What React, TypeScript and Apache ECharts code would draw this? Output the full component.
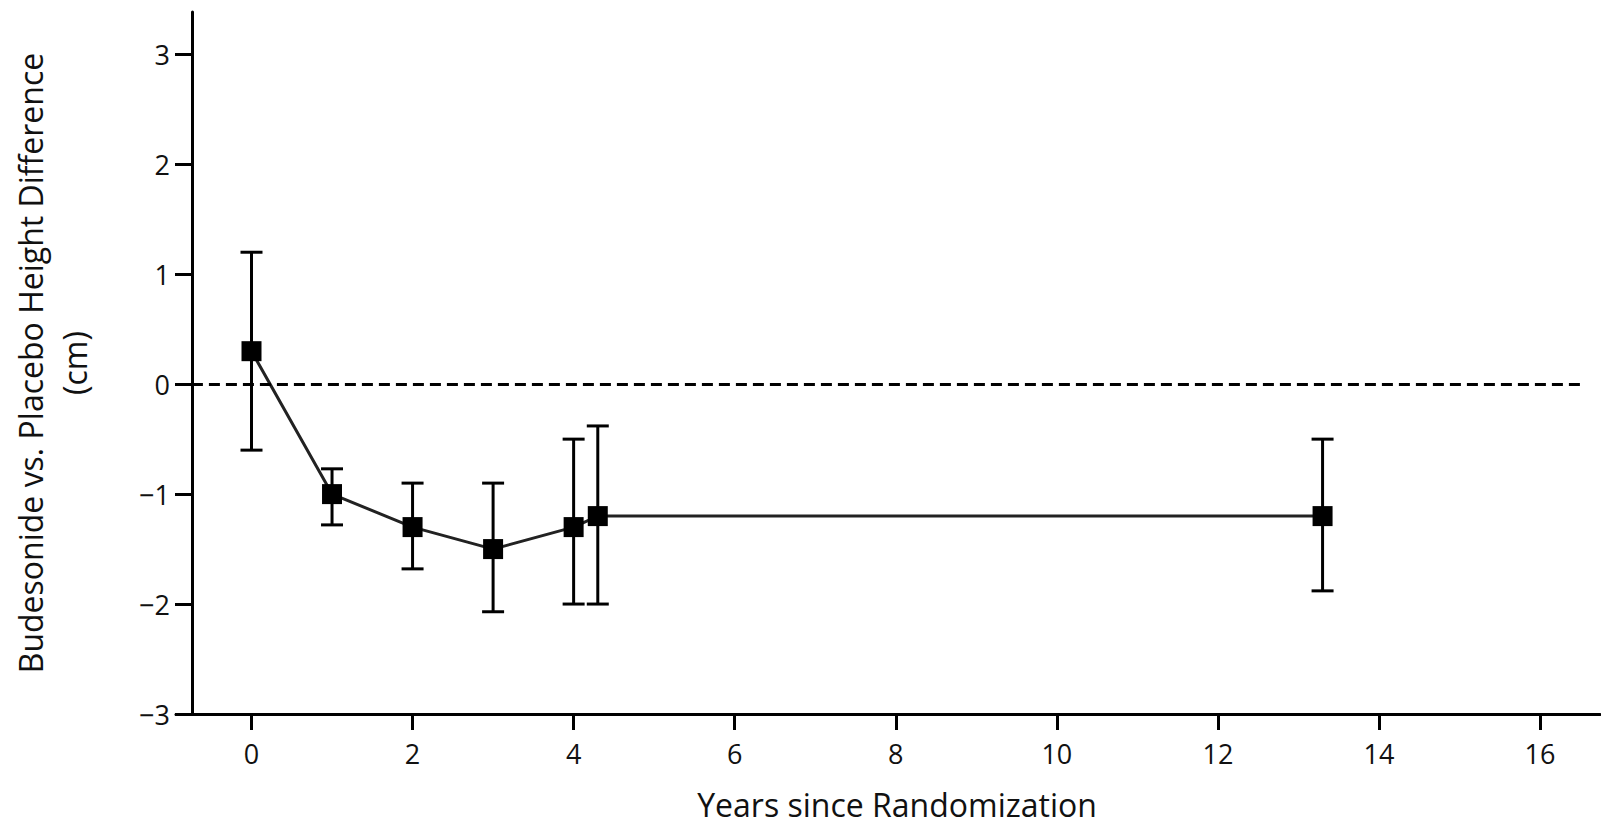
import React, { useEffect, useRef } from "react";
import * as echarts from "echarts";

// Data
const years = [0, 1, 2, 3, 4, 4.3, 13.3];
const heightDiff = [0.3, -1.0, -1.3, -1.5, -1.3, -1.2, -1.2];
const ciLow = [-0.6, -1.28, -1.68, -2.07, -2.0, -2.0, -1.88];
const ciHigh = [1.2, -0.77, -0.9, -0.9, -0.5, -0.38, -0.5];
const xTicks = [0, 2, 4, 6, 8, 10, 12, 14, 16];
const yTicks = [-3, -2, -1, 0, 1, 2, 3];
const refValue = 0;

const xMin = -0.9375;
const xMax = 16.745;
const yMin = -3;
const yMax = 3.385;
const refStart = -0.74;
const refEnd = 16.54;

const FONT = "'Open Sans', sans-serif";
const INK = "#111";

export default function App() {
  const ref = useRef<HTMLDivElement>(null);

  useEffect(() => {
    document.body.style.margin = "0";
    if (!ref.current) return;
    const chart = echarts.init(ref.current, null, { renderer: "svg" });

    const points = years.map((x, i) => [x, heightDiff[i]]);
    const bars = years.map((x, i) => [x, ciLow[i], ciHigh[i]]);

    chart.setOption({
      animation: false,
      backgroundColor: "#fff",
      grid: { left: 176, right: 1, top: 12, bottom: 112, containLabel: false, outerBoundsMode: "none" },
      xAxis: {
        type: "value",
        min: xMin,
        max: xMax,
        name: "Years since Randomization",
        nameLocation: "middle",
        nameGap: 74,
        nameTextStyle: { fontFamily: FONT, fontSize: 32, color: INK, fontWeight: 500, padding: [0, 0, 0, 18] },
        axisLine: { show: true, onZero: false, lineStyle: { color: "#000", width: 3 } },
        axisTick: {
          show: true,
          length: 16,
          inside: false,
          customValues: xTicks,
          lineStyle: { color: "#000", width: 3 },
        },
        axisLabel: {
          customValues: xTicks,
          margin: 26,
          fontFamily: FONT,
          fontSize: 27,
          color: INK,
        },
        splitLine: { show: false },
      },
      yAxis: {
        type: "value",
        min: yMin,
        max: yMax,
        offset: -16,
        name: "Budesonide vs. Placebo Height Difference\n(cm)",
        nameLocation: "middle",
        nameGap: 96,
        nameRotate: 90,
        nameTextStyle: { fontFamily: FONT, fontSize: 32, color: INK, fontWeight: 500, lineHeight: 44, align: "center" },
        axisLine: { show: true, onZero: false, lineStyle: { color: "#000", width: 3 } },
        axisTick: {
          show: true,
          length: 17,
          customValues: yTicks,
          lineStyle: { color: "#000", width: 3 },
        },
        axisLabel: {
          customValues: yTicks,
          margin: 22,
          fontFamily: FONT,
          fontSize: 27,
          color: INK,
          formatter: (v: number) => (v < 0 ? "\u2212" + Math.abs(v) : String(v)),
        },
        splitLine: { show: false },
      },
      series: [
        {
          type: "custom",
          name: "ci",
          data: bars,
          encode: { x: 0, y: [1, 2] },
          z: 2,
          renderItem: (params: any, api: any) => {
            const x = api.value(0);
            const lo = api.coord([x, api.value(1)]);
            const hi = api.coord([x, api.value(2)]);
            const cap = 11;
            const style = { stroke: "#000", lineWidth: 3 };
            return {
              type: "group",
              children: [
                { type: "line", shape: { x1: lo[0], y1: lo[1], x2: hi[0], y2: hi[1] }, style },
                { type: "line", shape: { x1: lo[0] - cap, y1: lo[1], x2: lo[0] + cap, y2: lo[1] }, style },
                { type: "line", shape: { x1: hi[0] - cap, y1: hi[1], x2: hi[0] + cap, y2: hi[1] }, style },
              ],
            };
          },
        },
        {
          type: "line",
          name: "diff",
          data: points,
          z: 3,
          symbol: "rect",
          symbolSize: 20,
          itemStyle: { color: "#000" },
          lineStyle: { color: "#222", width: 3 },
          markLine: {
            silent: true,
            symbol: ["none", "none"],
            label: { show: false },
            lineStyle: { color: "#000", width: 3, type: [11, 6] },
            data: [[{ coord: [refStart, refValue] }, { coord: [refEnd, refValue] }]],
          },
        },
      ],
    });

    return () => chart.dispose();
  }, []);

  return <div ref={ref} style={{ width: 1601, height: 826 }} />;
}
